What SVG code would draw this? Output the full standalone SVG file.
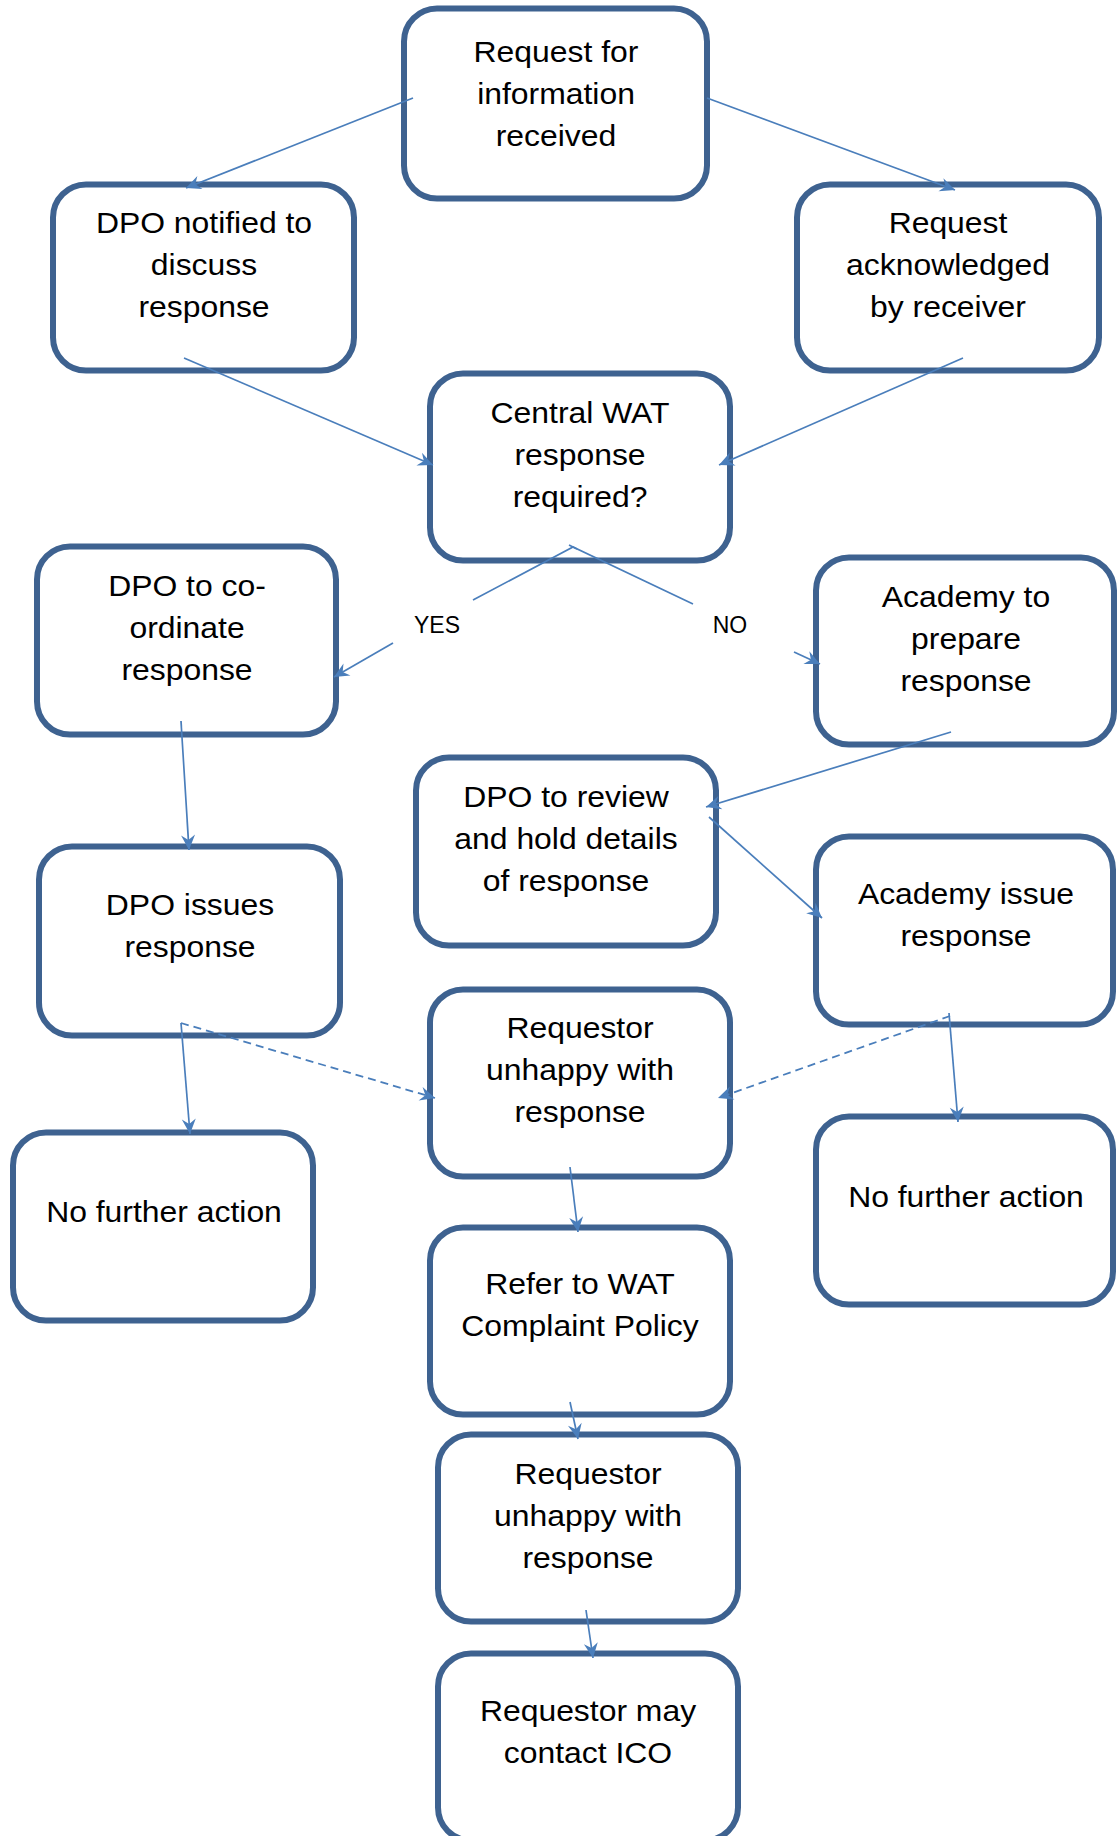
<svg xmlns="http://www.w3.org/2000/svg" width="1117" height="1836" viewBox="0 0 1117 1836">
<style>
.box{fill:#ffffff;stroke:#3E6290;stroke-width:6}
.t{font-family:"Liberation Sans",Arial,sans-serif;font-size:29px;fill:#000;text-anchor:middle}
.lbl{font-family:"Liberation Sans",Arial,sans-serif;font-size:23px;fill:#000;text-anchor:middle}
.c{fill:none;stroke:#4A7EBB;stroke-width:1.7}
.d{fill:none;stroke:#4A7EBB;stroke-width:1.8;stroke-dasharray:8 5}
</style>
<defs>
<marker id="ah" viewBox="-16 -8 17 16" refX="0" refY="0" markerWidth="17" markerHeight="16" markerUnits="userSpaceOnUse" orient="auto">
<path d="M0,0 L-15,-7 L-10,0 L-15,7 Z" fill="#4A7EBB"/>
</marker>
</defs>
<rect width="1117" height="1836" fill="#ffffff"/>

<g id="n1"><rect class="box" x="404" y="8.5" width="303" height="190" rx="33"/>
<g transform="translate(556 0) scale(1.1 1)"><text class="t" x="0" y="62">Request for</text><text class="t" x="0" y="104">information</text><text class="t" x="0" y="146">received</text></g></g>

<g id="n2"><rect class="box" x="53" y="184.5" width="301" height="186" rx="33"/>
<g transform="translate(204 0) scale(1.1 1)"><text class="t" x="0" y="233">DPO notified to</text><text class="t" x="0" y="275">discuss</text><text class="t" x="0" y="317">response</text></g></g>

<g id="n3"><rect class="box" x="797" y="184.5" width="302" height="186" rx="33"/>
<g transform="translate(948 0) scale(1.1 1)"><text class="t" x="0" y="233">Request</text><text class="t" x="0" y="275">acknowledged</text><text class="t" x="0" y="317">by receiver</text></g></g>

<g id="n4"><rect class="box" x="430" y="373.5" width="300" height="187" rx="33"/>
<g transform="translate(580 0) scale(1.1 1)"><text class="t" x="0" y="423">Central WAT</text><text class="t" x="0" y="465">response</text><text class="t" x="0" y="507">required?</text></g></g>

<g id="n5"><rect class="box" x="37" y="546.5" width="299" height="188" rx="33"/>
<g transform="translate(187 0) scale(1.1 1)"><text class="t" x="0" y="596">DPO to co-</text><text class="t" x="0" y="638">ordinate</text><text class="t" x="0" y="680">response</text></g></g>

<g id="n6"><rect class="box" x="816" y="557.5" width="298" height="187" rx="33"/>
<g transform="translate(966 0) scale(1.1 1)"><text class="t" x="0" y="607">Academy to</text><text class="t" x="0" y="649">prepare</text><text class="t" x="0" y="691">response</text></g></g>

<g id="n7"><rect class="box" x="416" y="757.5" width="300" height="188" rx="33"/>
<g transform="translate(566 0) scale(1.1 1)"><text class="t" x="0" y="807">DPO to review</text><text class="t" x="0" y="849">and hold details</text><text class="t" x="0" y="891">of response</text></g></g>

<g id="n8"><rect class="box" x="39" y="846.5" width="301" height="189" rx="33"/>
<g transform="translate(190 0) scale(1.1 1)"><text class="t" x="0" y="915">DPO issues</text><text class="t" x="0" y="957">response</text></g></g>

<g id="n9"><rect class="box" x="816" y="836.5" width="297" height="188" rx="33"/>
<g transform="translate(966 0) scale(1.1 1)"><text class="t" x="0" y="904">Academy issue</text><text class="t" x="0" y="946">response</text></g></g>

<g id="n10"><rect class="box" x="430" y="989.5" width="300" height="187" rx="33"/>
<g transform="translate(580 0) scale(1.1 1)"><text class="t" x="0" y="1038">Requestor</text><text class="t" x="0" y="1080">unhappy with</text><text class="t" x="0" y="1122">response</text></g></g>

<g id="n11"><rect class="box" x="13" y="1132.5" width="300" height="188" rx="33"/>
<g transform="translate(164 0) scale(1.1 1)"><text class="t" x="0" y="1222">No further action</text></g></g>

<g id="n12"><rect class="box" x="816" y="1116.5" width="297" height="188" rx="33"/>
<g transform="translate(966 0) scale(1.1 1)"><text class="t" x="0" y="1207">No further action</text></g></g>

<g id="n13"><rect class="box" x="430" y="1227.5" width="300" height="187" rx="33"/>
<g transform="translate(580 0) scale(1.1 1)"><text class="t" x="0" y="1294">Refer to WAT</text><text class="t" x="0" y="1336">Complaint Policy</text></g></g>

<g id="n14"><rect class="box" x="438" y="1434.5" width="300" height="187" rx="33"/>
<g transform="translate(588 0) scale(1.1 1)"><text class="t" x="0" y="1484">Requestor</text><text class="t" x="0" y="1526">unhappy with</text><text class="t" x="0" y="1568">response</text></g></g>

<g id="n15"><rect class="box" x="438" y="1653.5" width="300" height="187" rx="33"/>
<g transform="translate(588 0) scale(1.1 1)"><text class="t" x="0" y="1721">Requestor may</text><text class="t" x="0" y="1763">contact ICO</text></g></g>

<g id="connectors">
<line class="c" x1="413" y1="98" x2="186" y2="188" marker-end="url(#ah)"/>
<line class="c" x1="707" y1="98" x2="955" y2="190" marker-end="url(#ah)"/>
<line class="c" x1="184" y1="358" x2="433" y2="465" marker-end="url(#ah)"/>
<line class="c" x1="963" y1="358" x2="719" y2="465" marker-end="url(#ah)"/>
<polyline class="c" points="473,600 573,547 693,604"/>
<line class="c" x1="569" y1="545" x2="577" y2="549"/>
<line class="c" x1="393" y1="643" x2="334" y2="677" marker-end="url(#ah)"/>
<line class="c" x1="794" y1="652" x2="820" y2="664" marker-end="url(#ah)"/>
<line class="c" x1="181" y1="721" x2="189" y2="850" marker-end="url(#ah)"/>
<line class="c" x1="951" y1="732" x2="706" y2="807" marker-end="url(#ah)"/>
<line class="c" x1="709" y1="817" x2="822" y2="918" marker-end="url(#ah)"/>
<line class="c" x1="181" y1="1023" x2="190" y2="1134" marker-end="url(#ah)"/>
<line class="d" x1="181" y1="1023" x2="435" y2="1098" marker-end="url(#ah)"/>
<line class="d" x1="950" y1="1016" x2="718" y2="1098" marker-end="url(#ah)"/>
<line class="c" x1="949" y1="1013" x2="958" y2="1122" marker-end="url(#ah)"/>
<line class="c" x1="570" y1="1167" x2="578" y2="1232" marker-end="url(#ah)"/>
<line class="c" x1="570" y1="1402" x2="578" y2="1439" marker-end="url(#ah)"/>
<line class="c" x1="586" y1="1610" x2="593" y2="1658" marker-end="url(#ah)"/>
</g>
<g id="labels">
<text class="lbl" x="437" y="633">YES</text>
<text class="lbl" x="730" y="633">NO</text>
</g>
</svg>
